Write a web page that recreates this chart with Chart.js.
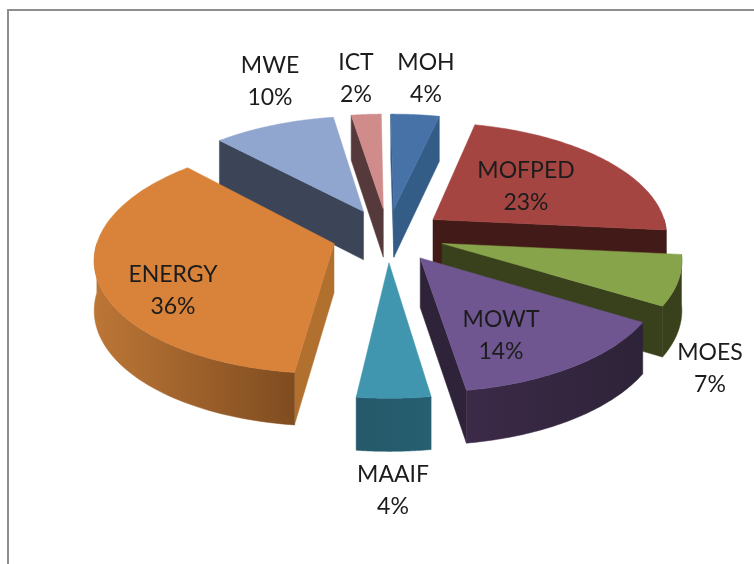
<!DOCTYPE html>
<html>
<head>
<meta charset="utf-8">
<style>
html,body{margin:0;padding:0;background:#fff;overflow:hidden}
#wrap{position:absolute;left:0;top:0;width:754px;height:564px}
#frame{position:absolute;left:7px;top:9px;width:760px;height:570px;border:2px solid #8e8e8e}
canvas{position:absolute;left:0;top:0}
</style>
<script src="https://cdn.jsdelivr.net/npm/chart.js@4/dist/chart.umd.min.js"></script>
</head>
<body>
<div id="wrap"><div id="frame"></div><canvas id="c" width="754" height="564"></canvas></div>
<script>
const categories = ['MOH','MOFPED','MOES','MOWT','MAAIF','ENERGY','MWE','ICT'];
const shares = [3.8,22.9,7.1,13.96,4.34,35.95,9.6,2.35];

const topColors  = ['#4672A8','#A54542','#87A44B','#6F5690','#3F96AE','#D8823A','#91A6CE','#CF8C8B'];
const faceColors = ['#335C87','#421A17','#38411C','#2E2339','#25596A','#B2702F','#3B4557','#563A3B'];
const wallLeft   = ['#335C87','#421A17','#38411C','#3C2A48','#25596A','#BC7636','#3B4557','#563A3B'];
const wallRight  = ['#335C87','#421A17','#38411C','#2D2338','#265F70','#7F4C20','#3B4557','#563A3B'];
const paintOrder = [0,7,6,1,5,2,3,4];
const labelX = [426,526,710,501,393,173,270,356];
const labelY = [63,171,353,320,475,275,66,63];
const EXPLODE = 0.24, TILT = 0.477, PERSP = 0.12;

const pie3d = {
  id:'pie3d',
  beforeDatasetDraw(chart){
    const ctx = chart.ctx, arcs = chart.getDatasetMeta(0).data;
    paintOrder.forEach(i=>{
      const a = arcs[i];
      const cx=a.x, cy=a.y, R=a.outerRadius;
      const t0=a.startAngle+Math.PI/2, t1=a.endAngle+Math.PI/2, m=(t0+t1)/2;
      const ex=EXPLODE*Math.sin(m), ey=EXPLODE*Math.cos(m);
      const project=(u,v,low)=>{
        const s=1/(1+PERSP*v);
        return [cx+R*u*s, cy-R*TILT*v*s+(low?49-3.3*v:0)];
      };
      const rim=(t,low)=>project(ex+Math.sin(t),ey+Math.cos(t),low);
      const apex=low=>project(ex,ey,low);
      const poly=(pts,fill)=>{
        ctx.beginPath();
        pts.forEach((p,k)=>k?ctx.lineTo(p[0],p[1]):ctx.moveTo(p[0],p[1]));
        ctx.closePath();
        ctx.fillStyle=fill; ctx.strokeStyle=fill; ctx.lineWidth=0.5;
        ctx.fill(); ctx.stroke();
      };
      if(Math.sin(t0)<0) poly([apex(false),rim(t0,false),rim(t0,true),apex(true)],faceColors[i]);
      if(Math.sin(t1)>0) poly([apex(false),rim(t1,false),rim(t1,true),apex(true)],faceColors[i]);
      // outer wall: only the stretch turned toward the viewer
      const from=Math.max(t0,Math.PI/2), to=Math.min(t1,Math.PI*1.5);
      if(to>from){
        const upper=[],lower=[];
        for(let k=0;k<=60;k++){
          const t=from+(to-from)*k/60;
          upper.push(rim(t,false)); lower.push(rim(t,true));
        }
        const all=upper.concat(lower.slice().reverse());
        const xs=all.map(p=>p[0]);
        const g=ctx.createLinearGradient(Math.min(...xs),0,Math.max(...xs),0);
        g.addColorStop(0,wallLeft[i]); g.addColorStop(1,wallRight[i]);
        poly(all,g);
      }
      const face=[apex(false)];
      for(let k=0;k<=80;k++) face.push(rim(t0+(t1-t0)*k/80,false));
      poly(face,topColors[i]);
    });
    return false;
  },
  afterDatasetsDraw(chart){
    const ctx=chart.ctx;
    ctx.save();
    ctx.font='23px Lato';
    ctx.fillStyle='#1c1c1c';
    ctx.textAlign='center';
    ctx.textBaseline='middle';
    categories.forEach((name,i)=>{
      ctx.fillText(name,labelX[i],labelY[i]);
      ctx.fillText(Math.round(shares[i])+'%',labelX[i],labelY[i]+32);
    });
    ctx.restore();
  }
};

new Chart(document.getElementById('c'),{
  type:'pie',
  data:{labels:categories,datasets:[{data:shares,backgroundColor:topColors,borderWidth:0}]},
  options:{
    responsive:false,animation:false,rotation:-0.7,
    layout:{padding:{left:22,bottom:94}},
    plugins:{legend:{display:false},tooltip:{enabled:false}}
  },
  plugins:[pie3d]
});
</script>
</body>
</html>
